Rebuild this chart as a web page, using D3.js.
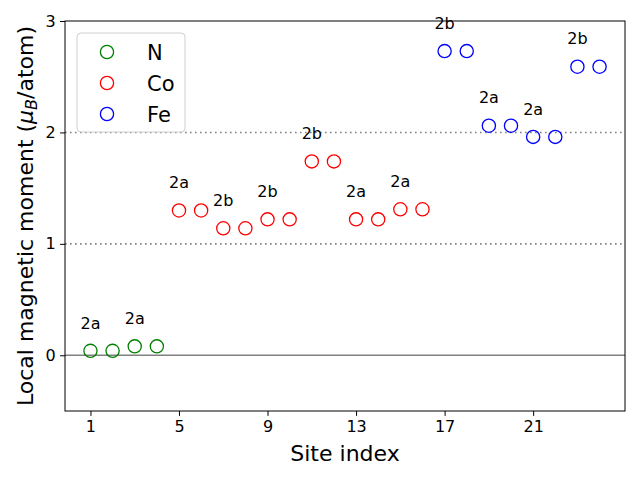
<!DOCTYPE html>
<html><head><meta charset="utf-8">
<script src="https://cdn.jsdelivr.net/npm/d3@7"></script>
<style>body{margin:0;background:#fff}svg{display:block;font-family:"DejaVu Sans",sans-serif}</style>
</head><body>
<script>
const nSites = [1,2,3,4];
const nValues = [0.04,0.04,0.08,0.08];
const coSites = [5,6,7,8,9,10,11,12,13,14,15,16];
const coValues = [1.30,1.30,1.14,1.14,1.22,1.22,1.74,1.74,1.22,1.22,1.31,1.31];
const feSites = [17,18,19,20,21,22,23,24];
const feValues = [2.73,2.73,2.06,2.06,1.96,1.96,2.59,2.59];
const seriesNames = ["N","Co","Fe"];
const seriesColors = ["green","red","blue"];
const labelSites = [1,3,5,7,9,11,13,15,17,19,21,23];
const labelValues = [0.04,0.08,1.30,1.14,1.22,1.74,1.22,1.31,2.73,2.06,1.96,2.59];
const labelTexts = ["2a","2a","2a","2b","2b","2b","2a","2a","2b","2a","2a","2b"];
const xTicks = [1,5,9,13,17,21];
const yTicks = [0,1,2,3];

const W=640,H=480, m={l:65,r:15,t:21,b:69};
const svg=d3.select("body").append("svg").attr("width",W).attr("height",H);
const x=d3.scaleLinear().domain([-0.15,25.15]).range([m.l,W-m.r]);
const y=d3.scaleLinear().domain([-0.5,3]).range([H-m.b,m.t]);

// reference lines
svg.append("line").attr("x1",x(-0.15)).attr("x2",x(25.15)).attr("y1",y(0)).attr("y2",y(0))
  .attr("stroke","#808080").attr("stroke-width",1.6);
[1,2].forEach(v=>svg.append("line").attr("x1",x(-0.15)).attr("x2",x(25.15)).attr("y1",y(v)).attr("y2",y(v))
  .attr("stroke","#808080").attr("stroke-width",1.6).attr("stroke-dasharray","1.6,3.4"));

const series=[[nSites,nValues],[coSites,coValues],[feSites,feValues]];
series.forEach(([s,v],i)=>{
  svg.append("g").selectAll("circle").data(s.map((d,j)=>[d,v[j]])).join("circle")
    .attr("cx",d=>x(d[0])).attr("cy",d=>y(d[1])).attr("r",6.6)
    .attr("fill","none").attr("stroke",seriesColors[i]).attr("stroke-width",1.3);
});

svg.append("g").selectAll("text").data(labelSites.map((d,j)=>[d,labelValues[j],labelTexts[j]])).join("text")
  .attr("x",d=>x(d[0])).attr("y",d=>y(d[1]+0.2)).attr("text-anchor","middle")
  .attr("font-size",16).text(d=>d[2]);

// axes
const xa=svg.append("g").attr("transform",`translate(0,${H-m.b})`)
  .call(d3.axisBottom(x).tickValues(xTicks).tickSize(4.9).tickPadding(4.5).tickFormat(d3.format("d")));
const ya=svg.append("g").attr("transform",`translate(${m.l},0)`)
  .call(d3.axisLeft(y).tickValues(yTicks).tickSize(4.9).tickPadding(4.5).tickFormat(d3.format("d")));
[xa,ya].forEach(a=>{a.selectAll("text").attr("font-size",16).attr("font-family","DejaVu Sans").attr("fill","#000");
  a.selectAll("line").attr("stroke","#000").attr("stroke-width",1); a.select(".domain").remove();});
svg.append("rect").attr("x",m.l).attr("y",m.t).attr("width",W-m.l-m.r).attr("height",H-m.t-m.b)
  .attr("fill","none").attr("stroke","#000").attr("stroke-width",1);

svg.append("text").attr("x",(m.l+W-m.r)/2).attr("y",461).attr("text-anchor","middle").attr("font-size",22).text("Site index");
const yl=svg.append("text").attr("transform",`translate(33,${(m.t+H-m.b)/2}) rotate(-90)`)
  .attr("text-anchor","middle").attr("font-size",22);
yl.append("tspan").text("Local magnetic moment (");
yl.append("tspan").attr("font-style","italic").text("μ");
yl.append("tspan").attr("font-style","italic").attr("font-size",16).attr("dy",4).text("B");
yl.append("tspan").attr("dy",-4).text("/atom)");

// legend
const lg=svg.append("g");
lg.append("rect").attr("x",77).attr("y",33).attr("width",108).attr("height",99).attr("rx",4)
  .attr("fill","#fff").attr("fill-opacity",0.8).attr("stroke","#d0d0d0").attr("stroke-width",1);
seriesNames.forEach((n,i)=>{
  const yy=52+i*31;
  lg.append("circle").attr("cx",107).attr("cy",yy).attr("r",6.6).attr("fill","none").attr("stroke",seriesColors[i]).attr("stroke-width",1.3);
  lg.append("text").attr("x",147).attr("y",yy+7.5).attr("font-size",21).text(n);
});
</script>
</body></html>
